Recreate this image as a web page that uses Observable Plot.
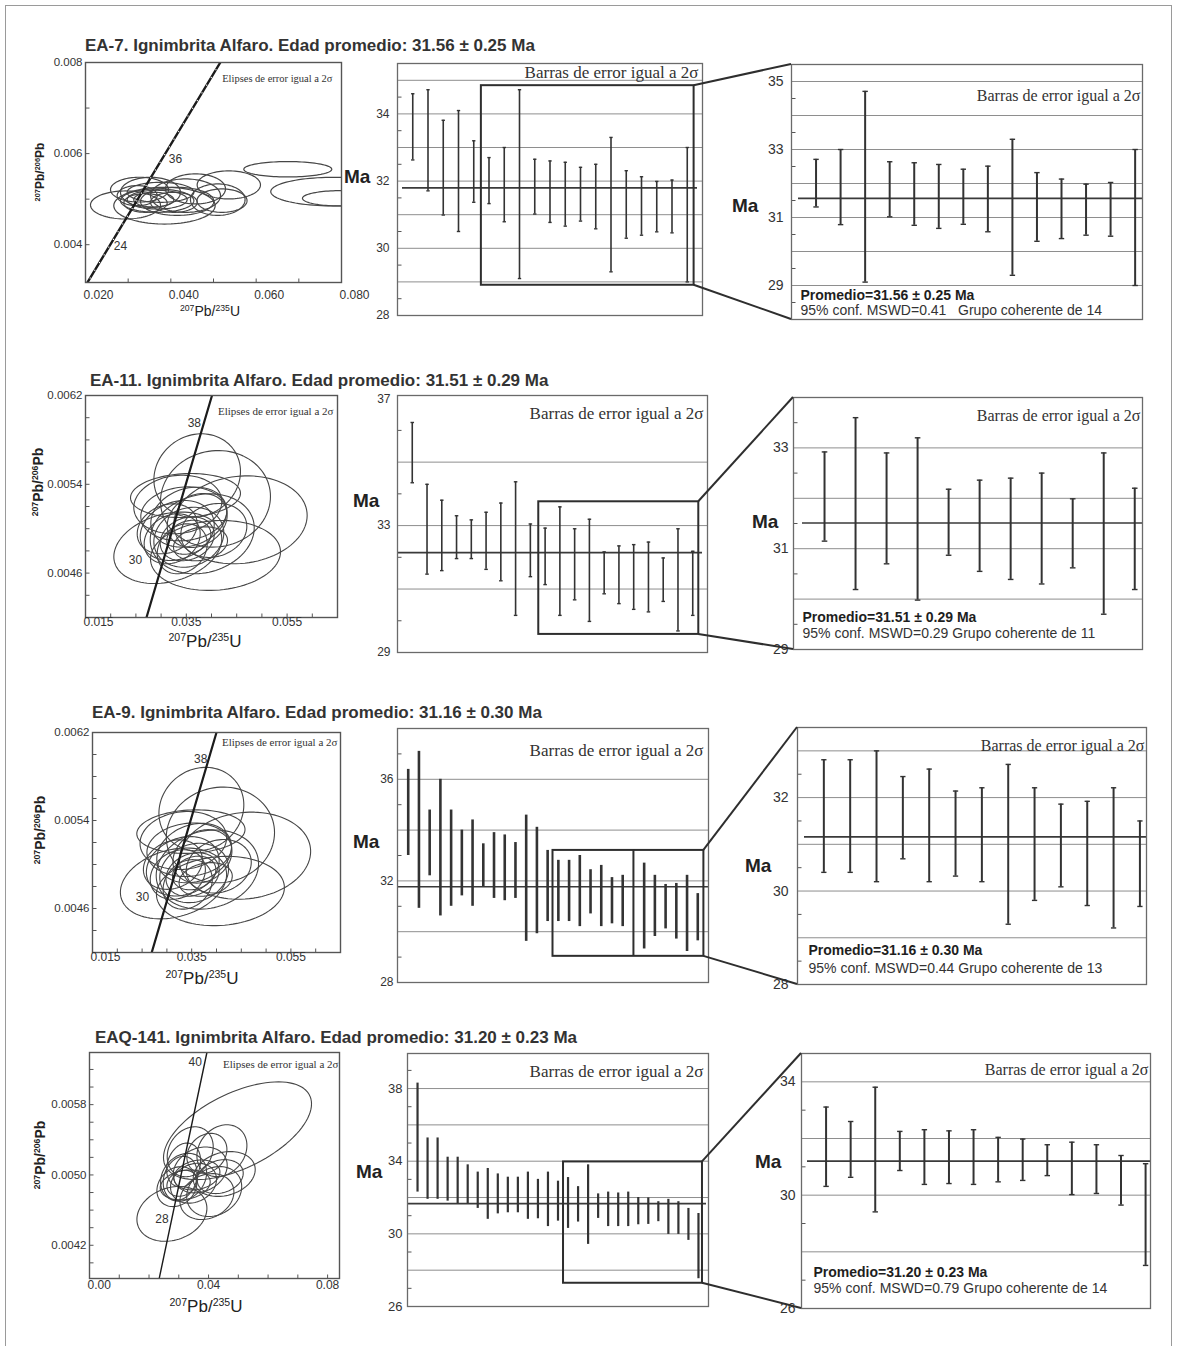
<!DOCTYPE html>
<html>
<head>
<meta charset="utf-8">
<script src="https://cdn.jsdelivr.net/npm/d3@7"></script>
<script src="https://cdn.jsdelivr.net/npm/@observablehq/plot@0.6"></script>
<style>
html,body{margin:0;padding:0;background:#fff;}
#fig{position:relative;width:1177px;height:1346px;overflow:hidden;background:#fff;font-family:"Liberation Sans",Arial,sans-serif;color:#2b2b2b;}
.abs{position:absolute;white-space:nowrap;}
.title{font-weight:bold;font-size:17px;line-height:17px;color:#333;}
.ma{font-weight:bold;font-size:19px;line-height:19px;color:#222;}
.ylab{font-weight:bold;transform:translate(-50%,-50%) rotate(-90deg);color:#222;}
.xlab{transform:translate(-50%,-50%);color:#222;}
sup{font-size:0.62em;line-height:0;vertical-align:0.6em;}
.border{border:1px solid #9a9a9a;}
</style>
</head>
<body>
<div id="fig"></div>
<script>
// ================= DATA =================
const titles = [
  "EA-7. Ignimbrita Alfaro. Edad promedio: 31.56 ± 0.25 Ma",
  "EA-11. Ignimbrita Alfaro. Edad promedio: 31.51 ± 0.29 Ma",
  "EA-9. Ignimbrita Alfaro. Edad promedio: 31.16 ± 0.30 Ma",
  "EAQ-141. Ignimbrita Alfaro. Edad promedio: 31.20 ± 0.23 Ma"
];
const promedioText = [
  "Promedio=31.56 ± 0.25 Ma",
  "Promedio=31.51 ± 0.29 Ma",
  "Promedio=31.16 ± 0.30 Ma",
  "Promedio=31.20 ± 0.23 Ma"
];
const mswdText = [
  "95% conf. MSWD=0.41   Grupo coherente de 14",
  "95% conf. MSWD=0.29 Grupo coherente de 11",
  "95% conf. MSWD=0.44 Grupo coherente de 13",
  "95% conf. MSWD=0.79 Grupo coherente de 14"
];
const noteEllipses = "Elipses de error igual a 2σ";
const noteBars = "Barras de error igual a 2σ";
const yAxisLabel = "<sup>207</sup>Pb/<sup>206</sup>Pb";
const xAxisLabel = "<sup>207</sup>Pb/<sup>235</sup>U";
const maLabel = "Ma";

// Concordia ellipses: [207Pb/235U, 207Pb/206Pb, half-width x, half-width y, rho]
const ea7Ellipses = [
  [0.06741,0.005656,0.01031,0.000169,0],[0.07819,0.005165,0.01477,0.000315,0],
  [0.07976,0.005018,0.00891,0.000169,0],[0.02937,0.004872,0.0082,0.000308,0],
  [0.03851,0.004857,0.01188,0.000404,0],[0.0510,0.004989,0.0064,0.000345,0],
  [0.05359,0.005313,0.00742,0.000308,0],[0.04578,0.005225,0.00703,0.00033,0],
  [0.03266,0.005209,0.0068,0.000272,0],[0.03523,0.00515,0.00703,0.00033,0],
  [0.0368,0.004967,0.0086,0.000257,0],[0.0368,0.004989,0.00703,0.000206,0],
  [0.0360,0.004989,0.00469,0.000162,0],[0.04149,0.004952,0.0086,0.000308,0],
  [0.03211,0.005077,0.00469,0.00022,0],[0.04344,0.005077,0.0082,0.000367,0],
  [0.03758,0.00515,0.00781,0.00022,0],[0.0407,0.00493,0.00547,0.00022,0],
  [0.052,0.004967,0.00586,0.000257,0],[0.03406,0.004916,0.00508,0.000206,0]
];
const ea11Ellipses = [
  [0.03716,0.005479,0.00859,0.000376,0.1],[0.04079,0.005269,0.01091,0.000435,0.05],
  [0.04575,0.00508,0.01323,0.000396,0.1],[0.03133,0.004828,0.01071,0.000322,0.25],
  [0.03331,0.005218,0.00873,0.000264,0.1],[0.04079,0.004759,0.0129,0.000315,0.1],
  [0.0355,0.005104,0.00754,0.00027,0.2],[0.0332,0.004984,0.00734,0.00027,0.2],
  [0.0355,0.004923,0.00694,0.00027,0.15],[0.0322,0.004909,0.00556,0.000225,0.2],
  [0.03518,0.004909,0.00536,0.000198,0.2],[0.03121,0.004999,0.00595,0.000225,0.2],
  [0.03716,0.005074,0.00595,0.000243,0.2],[0.04046,0.004984,0.00655,0.000243,0.15],
  [0.0345,0.005134,0.00853,0.000243,0.1],[0.03419,0.004819,0.00496,0.000225,0.2],
  [0.03816,0.004954,0.01032,0.00036,0.15],[0.03484,0.005299,0.01091,0.000198,0.1],
  [0.0355,0.004923,0.00437,0.000153,0.2],[0.03782,0.004864,0.00536,0.000153,0.2]
];
const ea9Ellipses = [
  [0.03695,0.005504,0.00856,0.000379,0.1],[0.04079,0.005269,0.01091,0.000435,0.05],
  [0.04575,0.00508,0.01323,0.000396,0.1],[0.03133,0.004828,0.01071,0.000322,0.25],
  [0.03331,0.005218,0.00873,0.000264,0.1],[0.04079,0.004759,0.0129,0.000315,0.1],
  [0.0355,0.005104,0.00754,0.00027,0.2],[0.0332,0.004984,0.00734,0.00027,0.2],
  [0.0355,0.004923,0.00694,0.00027,0.15],[0.0322,0.004909,0.00556,0.000225,0.2],
  [0.03518,0.004909,0.00536,0.000198,0.2],[0.03121,0.004999,0.00595,0.000225,0.2],
  [0.03716,0.005074,0.00595,0.000243,0.2],[0.04046,0.004984,0.00655,0.000243,0.15],
  [0.0345,0.005134,0.00853,0.000243,0.1],[0.03419,0.004819,0.00496,0.000225,0.2],
  [0.03816,0.004954,0.01032,0.00036,0.15],[0.03484,0.005299,0.01091,0.000198,0.1],
  [0.0355,0.004923,0.00437,0.000153,0.2],[0.03782,0.004864,0.00536,0.000153,0.2]
];
const eaq141Ellipses = [
  [0.04973,0.005503,0.02487,0.000556,0.55],[0.02769,0.004557,0.01176,0.000312,0.2],
  [0.04449,0.005276,0.0084,0.000295,0.2],[0.04526,0.005011,0.01042,0.000255,0.2],
  [0.0419,0.004811,0.00924,0.000284,0.2],[0.03384,0.005264,0.00773,0.000284,0.2],
  [0.03162,0.004974,0.00773,0.000272,0.2],[0.03048,0.004962,0.00571,0.00025,0.2],
  [0.03495,0.004906,0.00773,0.000227,0.2],[0.02937,0.004867,0.00672,0.000227,0.2],
  [0.0372,0.005057,0.00907,0.000261,0.2],[0.03162,0.005113,0.00571,0.00025,0.2],
  [0.03945,0.004754,0.00907,0.000261,0.2],[0.03216,0.004887,0.0084,0.00017,0.2],
  [0.03609,0.0050,0.00773,0.00017,0.2],[0.03105,0.004906,0.00504,0.000148,0.2],
  [0.03945,0.005246,0.00672,0.000227,0.2],[0.04392,0.004981,0.00773,0.000193,0.2]
];

// Concordia curve (end points) and age labels [age, x, y]
const ea7Concordia = [[0.0200,0.00310],[0.0516,0.0080]];
const ea7Ages = [[36,0.0411,0.005885],[24,0.0282,0.003976]];
const ea11Concordia = [[0.0271,0.0042],[0.0401,0.0062]];
const ea11Ages = [[38,0.0366,0.005948],[30,0.0249,0.004714]];
const ea9Concordia = [[0.02694,0.0042],[0.0400,0.0062]];
const ea9Ages = [[38,0.03681,0.005958],[30,0.02507,0.004706]];
const eaq141Concordia = [[0.02342,0.003822],[0.03945,0.006393]];
const eaq141Ages = [[40,0.0355,0.006286],[28,0.02433,0.004497]];

// Concordia axis tick values (labelled and minor)
const ea7YTicks = [0.004, 0.006, 0.008], ea7XTicks = [0.02, 0.04, 0.06, 0.08];
const ea7YMinor = [0.004, 0.005, 0.006, 0.007], ea7XMinor = [0.03, 0.04, 0.05, 0.06, 0.07];
const ea11YTicks = [0.0046, 0.0054, 0.0062], ea11XTicks = [0.015, 0.035, 0.055];
const ea11YMinor = [0.0044, 0.0046, 0.0048, 0.005, 0.0052, 0.0054, 0.0056, 0.0058, 0.006];
const ea11XMinor = [0.02, 0.025, 0.03, 0.035, 0.04, 0.045, 0.05, 0.055, 0.06];
const eaq141YTicks = [0.0042, 0.005, 0.0058], eaq141XTicks = [0, 0.04, 0.08];
const eaq141YMinor = [0.004, 0.0042, 0.0044, 0.0046, 0.0048, 0.005, 0.0052, 0.0054, 0.0056, 0.0058, 0.006, 0.0062];
const eaq141XMinor = [0.01, 0.02, 0.03, 0.04, 0.05, 0.06, 0.07, 0.08];

// Error bars [upper, lower] in Ma (null = empty position)
const ea7All = [[34.6,32.63],[34.72,31.71],[33.81,30.99],[34.1,30.5],[33.2,31.37],[32.7,31.33],[33.0,30.79],[34.72,29.1],[32.65,31.02],[32.6,30.77],[32.56,30.66],[32.41,30.81],[32.5,30.58],[33.3,29.3],[32.31,30.3],[32.13,30.39],[31.99,30.49],[32.03,30.46],[33.0,29.0]];
const ea7Sel = [[32.71,31.31],[33.0,30.79],[34.71,29.1],[32.64,31.02],[32.61,30.77],[32.56,30.68],[32.42,30.8],[32.51,30.58],[33.3,29.3],[32.32,30.3],[32.13,30.38],[31.98,30.48],[32.03,30.45],[33.0,29.0]];
const ea11All = [[36.25,34.35],[34.3,31.47],[33.8,31.58],[33.31,31.96],[33.18,31.96],[33.42,31.62],[33.71,31.26],[34.38,30.17],[33.05,31.39],[32.92,31.14],[33.59,30.17],[32.9,30.66],[33.2,29.98],[32.17,30.85],[32.36,30.54],[32.4,30.36],[32.48,30.28],[31.98,30.61],[32.9,29.68],[32.19,30.17]];
const ea11Sel = [[32.92,31.15],[33.6,30.19],[32.9,30.7],[33.2,29.98],[32.18,30.87],[32.36,30.55],[32.4,30.39],[32.5,30.3],[31.99,30.62],[32.9,29.7],[32.2,30.19]];
const ea9All = [[36.39,33.0],[37.1,30.92],[34.79,32.2],[36.0,30.62],[34.79,31.0],[34.0,31.41],[34.4,31.0],[33.46,31.77],[33.9,31.31],[33.81,31.22],[33.51,31.31],[34.59,29.62],[34.11,29.92],[33.2,30.4],[32.81,30.4],[32.81,30.4],[33.0,30.2],[32.44,30.7],[32.61,30.2],[32.13,30.31],[32.22,30.2],null,[32.7,29.32],[32.22,29.81],[31.86,30.11],[31.9,29.71],[32.22,29.22],[31.5,29.64]];
const ea9Sel = [[32.81,30.4],[32.81,30.4],[33.0,30.2],[32.45,30.69],[32.61,30.2],[32.14,30.32],[32.21,30.2],[32.71,29.29],[32.21,29.8],[31.86,30.09],[31.92,29.69],[32.21,29.21],[31.5,29.67]];
const eaq141All = [[38.3,32.3],[35.28,31.9],[35.28,31.9],[34.22,31.8],[34.22,31.67],[33.8,31.67],[33.4,31.4],[33.6,30.8],[33.3,31.1],[33.12,31.16],[33.12,31.16],[33.4,30.8],[33.0,30.83],[33.4,30.4],[32.9,30.7],[33.1,30.3],[32.6,30.65],[33.8,29.42],[32.2,30.85],[32.3,30.4],[32.25,30.4],[32.3,30.4],[32.0,30.5],[31.98,30.52],[31.77,30.67],[31.9,29.97],[31.77,29.97],[31.4,29.64],[31.12,27.53]];
const eaq141Sel = [[33.11,30.31],[32.6,30.63],[33.81,29.41],[32.25,30.87],[32.31,30.38],[32.27,30.41],[32.31,30.38],[32.04,30.47],[31.98,30.52],[31.78,30.69],[31.87,30.02],[31.78,30.06],[31.4,29.65],[31.11,27.52]];

// mean lines (Ma)
const meansAll = [31.8, 32.15, 31.77, 31.66];
const meansSel = [31.56, 31.51, 31.16, 31.20];
// selection boxes [fromPos, toPos, lowMa, highMa]
const ea7Box = [5.5, 19.45, 28.9, 34.84];
const ea11Box = [9.57, 20.41, 29.57, 33.75];
const ea9Box = [14.5, 28.57, 29.03, 33.2];
const eaq141Box = [15.55, 29.4, 27.28, 33.96];
const ea9Divider = 22;

// age axis: labelled ticks, grid lines, minor ticks (Ma)
const ea7MidTicks = [28, 30, 32, 34], ea7MidGrid = [29, 30, 31, 32, 33, 34, 35], ea7MidMinor = [28.5, 29.5, 30.5, 31.5, 32.5, 33.5, 34.5];
const ea7SelTicks = [29, 31, 33, 35], ea7SelGrid = [29, 30, 31, 32, 33, 34, 35], ea7SelMinor = [28.5, 29.5, 30.5, 31.5, 32.5, 33.5, 34.5];
const ea11MidTicks = [29, 33, 37], ea11MidGrid = [31, 33, 35], ea11MidMinor = [30, 32, 34, 36];
const ea11SelTicks = [29, 31, 33], ea11SelGrid = [30, 31, 32, 33], ea11SelMinor = [29.5, 30.5, 31.5, 32.5, 33.5];
const ea9MidTicks = [28, 32, 36], ea9MidGrid = [30, 32, 34, 36], ea9MidMinor = [29, 31, 33, 35, 37];
const ea9SelTicks = [28, 30, 32], ea9SelGrid = [29, 30, 31, 32, 33], ea9SelMinor = [28.5, 29.5, 30.5, 31.5, 32.5];
const eaq141MidTicks = [26, 30, 34, 38], eaq141MidGrid = [28, 30, 32, 34, 36, 38], eaq141MidMinor = [27, 29, 31, 33, 35, 37, 39];
const eaq141SelTicks = [26, 30, 34], eaq141SelGrid = [28, 30, 32, 34], eaq141SelMinor = [27, 29, 31, 33];

// ================= LAYOUT =================
const SERIF = "Liberation Serif, Times New Roman, serif";
const SANS = "Liberation Sans, Arial, sans-serif";
const fig = document.getElementById("fig");
const intFmt = d3.format("d");

function addDiv(cls, html, left, top, extra) {
  const d = document.createElement("div");
  d.className = "abs " + cls;
  d.innerHTML = html;
  d.style.left = left + "px";
  d.style.top = top + "px";
  if (extra) Object.assign(d.style, extra);
  fig.appendChild(d);
  return d;
}

function ellipsePoints(list) {
  const out = [];
  list.forEach((e, k) => {
    const [cx, cy, ax, ay, rho] = e;
    const s = Math.sqrt(1 - rho * rho);
    for (let j = 0; j <= 96; j++) {
      const t = (j / 96) * 2 * Math.PI;
      out.push({k, x: cx + ax * Math.cos(t), y: cy + ay * (rho * Math.cos(t) + s * Math.sin(t))});
    }
  });
  return out;
}

function mount(plot, frame, m) {
  plot.style.position = "absolute";
  plot.style.left = (frame[0] - m.l) + "px";
  plot.style.top = (frame[1] - m.t) + "px";
  fig.appendChild(plot);
  return {plot, left: frame[0] - m.l, top: frame[1] - m.t};
}

const svgStyle = {background: "transparent", overflow: "visible", fontFamily: SANS, maxWidth: "none", color: "#333"};

// small inward tick marks along the left (and bottom) frame edges
function leftTicks(values, xDomain, fw, px) {
  const len = (xDomain[1] - xDomain[0]) * px / fw;
  return Plot.link(values, {x1: () => xDomain[0], x2: () => xDomain[0] + len, y1: d => d, y2: d => d, stroke: "#555", strokeWidth: 1});
}
function bottomTicks(values, yDomain, fh, px) {
  const len = (yDomain[1] - yDomain[0]) * px / fh;
  return Plot.link(values, {x1: d => d, x2: d => d, y1: () => yDomain[0], y2: () => yDomain[0] + len, stroke: "#555", strokeWidth: 1});
}

function concordiaPanel(c) {
  const m = {l: 60, r: 30, t: 12, b: 34};
  const fw = c.frame[2] - c.frame[0], fh = c.frame[3] - c.frame[1];
  const fmtX = d3.format(c.xFmt), fmtY = d3.format(c.yFmt);
  const marks = [
    Plot.line(ellipsePoints(c.ellipses), {x: "x", y: "y", z: "k", stroke: "#464646", strokeWidth: c.ew, clip: true}),
    Plot.line(c.concordia, {x: d => d[0], y: d => d[1], stroke: "#1b1b1b", strokeWidth: c.cw, clip: true})
  ];
  if (c.dotted) marks.push(Plot.line(c.concordia, {x: d => d[0], y: d => d[1], stroke: "#fff", strokeWidth: 1.3, strokeDasharray: "0.01 9", strokeLinecap: "round", clip: true}));
  marks.push(
    leftTicks(c.yMinor, c.xDomain, fw, 4),
    bottomTicks(c.xMinor, c.yDomain, fh, 4),
    Plot.text(c.ages, {x: d => d[1], y: d => d[2], text: d => String(d[0]), fontSize: 12, fill: "#333"}),
    Plot.text([noteEllipses], {text: d => d, frameAnchor: "top-right", textAnchor: "end", lineAnchor: "middle", dx: c.noteDx, dy: c.noteDy, fontSize: c.noteSize, fontFamily: SERIF, fill: "#333"}),
    Plot.frame({stroke: "#555", strokeWidth: 1.4}),
    Plot.axisY(c.yTicks, {tickSize: 0, tickPadding: 3, tickFormat: fmtY, fontSize: 11.5, label: null}),
    Plot.axisX(c.xTicks.slice(0, c.startCount), {tickSize: 0, tickPadding: c.xPad, tickFormat: fmtX, textAnchor: "start", dx: -2, fontSize: 12, label: null})
  );
  if (c.startCount < c.xTicks.length)
    marks.push(Plot.axisX(c.xTicks.slice(c.startCount), {tickSize: 0, tickPadding: c.xPad, tickFormat: fmtX, fontSize: 12, label: null}));
  const plot = Plot.plot({
    width: fw + m.l + m.r, height: fh + m.t + m.b,
    marginLeft: m.l, marginRight: m.r, marginTop: m.t, marginBottom: m.b,
    style: svgStyle,
    x: {domain: c.xDomain, axis: null},
    y: {domain: c.yDomain, axis: null},
    marks
  });
  return mount(plot, c.frame, m);
}

function agePanel(a) {
  const m = {l: 50, r: 12, t: 12, b: 14};
  const fw = a.frame[2] - a.frame[0], fh = a.frame[3] - a.frame[1];
  const bars = a.bars.map((d, k) => d ? {i: k + 1, hi: d[0], lo: d[1]} : null).filter(Boolean);
  const marks = [
    Plot.ruleY(a.grid, {stroke: "#8e8e8e", strokeWidth: 1}),
    leftTicks(a.minor, a.xDomain, fw, 4),
    Plot.ruleY([a.mean], {y: d => d, stroke: "#3a3a3a", strokeWidth: 1.7, insetLeft: a.meanInset[0], insetRight: a.meanInset[1]}),
    Plot.ruleX(bars, {x: "i", y1: "lo", y2: "hi", stroke: "#333", strokeWidth: a.bw})
  ];
  if (a.cap) marks.push(
    Plot.link(bars, {x1: d => d.i - a.cap, x2: d => d.i + a.cap, y1: "hi", y2: "hi", stroke: "#333", strokeWidth: 1.4}),
    Plot.link(bars, {x1: d => d.i - a.cap, x2: d => d.i + a.cap, y1: "lo", y2: "lo", stroke: "#333", strokeWidth: 1.4})
  );
  if (a.box) marks.push(Plot.rect([a.box], {x1: d => d[0], x2: d => d[1], y1: d => d[2], y2: d => d[3], fill: "none", stroke: "#2e2e2e", strokeWidth: 2}));
  if (a.divider != null) marks.push(Plot.ruleX([a.divider], {x: d => d, y1: () => a.box[2], y2: () => a.box[3], stroke: "#2e2e2e", strokeWidth: 2}));
  marks.push(Plot.text([noteBars], {text: d => d, frameAnchor: "top-right", textAnchor: "end", lineAnchor: "middle", dx: a.noteDx, dy: a.noteDy, fontSize: a.noteSize, fontFamily: SERIF, fill: "#333"}));
  if (a.stats) marks.push(
    Plot.text([a.stats[0]], {text: d => d, frameAnchor: "bottom-left", textAnchor: "start", lineAnchor: "middle", dx: a.statsDx, dy: a.statsDy[0], fontSize: 14, fontWeight: "bold", fill: "#1e1e1e"}),
    Plot.text([a.stats[1]], {text: d => d, frameAnchor: "bottom-left", textAnchor: "start", lineAnchor: "middle", dx: a.statsDx, dy: a.statsDy[1], fontSize: 14, fill: "#333"})
  );
  marks.push(
    Plot.frame({stroke: "#6a6a6a", strokeWidth: 1.3}),
    Plot.axisY(a.ticks, {tickSize: 0, tickPadding: a.tickPad, tickFormat: intFmt, fontSize: a.tickFont, label: null})
  );
  const plot = Plot.plot({
    width: fw + m.l + m.r, height: fh + m.t + m.b,
    marginLeft: m.l, marginRight: m.r, marginTop: m.t, marginBottom: m.b,
    style: svgStyle,
    x: {domain: a.xDomain, axis: null},
    y: {domain: a.yDomain, axis: null},
    marks
  });
  return mount(plot, a.frame, m);
}

// ---------- Row specifications (positions & styles) ----------
const rows = [
  {
    title: [85, 36.6],
    conc: {frame: [85, 62, 341, 282], xDomain: [0.020, 0.080], yDomain: [0.00317, 0.008], xTicks: ea7XTicks, startCount: 4,
      yTicks: ea7YTicks, yMinor: ea7YMinor, xMinor: ea7XMinor, xFmt: ".3f", yFmt: ".3f", xPad: 8, ellipses: ea7Ellipses, concordia: ea7Concordia, ages: ea7Ages,
      cw: 2.4, ew: 1.2, dotted: true, noteDx: -9, noteDy: 16, noteSize: 10.5},
    ylab: [40, 172, 12], xlab: [210, 311, 14],
    mid: {frame: [397, 63, 702, 315], xDomain: [0, 20], yDomain: [28, 35.5], grid: ea7MidGrid, ticks: ea7MidTicks, minor: ea7MidMinor,
      mean: meansAll[0], meanInset: [5, 5], bars: ea7All, cap: 0.11, bw: 1.6, box: ea7Box, noteDx: -4, noteDy: 9, noteSize: 17, tickFont: 12, tickPad: 8},
    sel: {frame: [791, 64, 1142, 319], xDomain: [0, 14.3], yDomain: [28, 35.5], grid: ea7SelGrid, ticks: ea7SelTicks, minor: ea7SelMinor,
      mean: meansSel[0], meanInset: [7, 0], bars: ea7Sel, cap: 0.11, bw: 2, noteDx: -2, noteDy: 31, noteSize: 16, tickFont: 14, tickPad: 8,
      stats: [promedioText[0], mswdText[0]], statsDx: 9, statsDy: [-24, -9]},
    maMid: [344, 167], maSel: [732, 196]
  },
  {
    title: [90, 371.6],
    conc: {frame: [85, 395, 337, 617], xDomain: [0.015, 0.065], yDomain: [0.0042, 0.0062], xTicks: ea11XTicks, startCount: 1,
      yTicks: ea11YTicks, yMinor: ea11YMinor, xMinor: ea11XMinor, xFmt: ".3f", yFmt: ".4f", xPad: 0, ellipses: ea11Ellipses, concordia: ea11Concordia, ages: ea11Ages,
      cw: 2.2, ew: 1.1, dotted: false, noteDx: -4, noteDy: 16, noteSize: 11},
    ylab: [38, 482, 14], xlab: [205, 642, 17],
    mid: {frame: [397, 395, 707, 652], xDomain: [0, 21], yDomain: [29, 37.1], grid: ea11MidGrid, ticks: ea11MidTicks, minor: ea11MidMinor,
      mean: meansAll[1], meanInset: [1, 5], bars: ea11All, cap: 0.12, bw: 1.6, box: ea11Box, noteDx: -4, noteDy: 18, noteSize: 17, tickFont: 12, tickPad: 7},
    sel: {frame: [793, 397, 1142, 649], xDomain: [0, 11.25], yDomain: [29, 34], grid: ea11SelGrid, ticks: ea11SelTicks, minor: ea11SelMinor,
      mean: meansSel[1], meanInset: [9, 0], bars: ea11Sel, cap: 0.09, bw: 2, noteDx: -2, noteDy: 18, noteSize: 16, tickFont: 14, tickPad: 5,
      stats: [promedioText[1], mswdText[1]], statsDx: 9, statsDy: [-32, -16]},
    maMid: [353, 491], maSel: [752, 512]
  },
  {
    title: [92, 703.6],
    conc: {frame: [92, 732, 340, 952], xDomain: [0.015, 0.065], yDomain: [0.0042, 0.0062], xTicks: ea11XTicks, startCount: 1,
      yTicks: ea11YTicks, yMinor: ea11YMinor, xMinor: ea11XMinor, xFmt: ".3f", yFmt: ".4f", xPad: 0, ellipses: ea9Ellipses, concordia: ea9Concordia, ages: ea9Ages,
      cw: 2.2, ew: 1.1, dotted: false, noteDx: -3, noteDy: 10, noteSize: 11},
    ylab: [40, 830, 14], xlab: [202, 979, 17],
    mid: {frame: [397, 728, 708, 982], xDomain: [0, 29], yDomain: [28, 38], grid: ea9MidGrid, ticks: ea9MidTicks, minor: ea9MidMinor,
      mean: meansAll[2], meanInset: [0, 0], bars: ea9All, cap: 0, bw: 2.6, box: ea9Box, divider: ea9Divider, noteDx: -5, noteDy: 22, noteSize: 17, tickFont: 12, tickPad: 4},
    sel: {frame: [797, 727, 1146, 984], xDomain: [0, 13.25], yDomain: [28, 33.5], grid: ea9SelGrid, ticks: ea9SelTicks, minor: ea9SelMinor,
      mean: meansSel[2], meanInset: [7, 0], bars: ea9Sel, cap: 0.1, bw: 2, noteDx: -2, noteDy: 18, noteSize: 16, tickFont: 14, tickPad: 9,
      stats: [promedioText[2], mswdText[2]], statsDx: 11, statsDy: [-34, -16]},
    maMid: [353, 832], maSel: [745, 856]
  },
  {
    title: [95, 1028.6],
    conc: {frame: [89, 1052, 339, 1278], xDomain: [0, 0.084], yDomain: [0.003822, 0.006393], xTicks: eaq141XTicks, startCount: 1,
      yTicks: eaq141YTicks, yMinor: eaq141YMinor, xMinor: eaq141XMinor, xFmt: ".2f", yFmt: ".4f", xPad: 2, ellipses: eaq141Ellipses, concordia: eaq141Concordia, ages: eaq141Ages,
      cw: 1.4, ew: 1.1, dotted: false, noteDx: -1, noteDy: 12, noteSize: 11},
    ylab: [40, 1155, 14], xlab: [206, 1307, 17],
    mid: {frame: [407, 1053, 708, 1306], xDomain: [0, 30], yDomain: [26, 39.93], grid: eaq141MidGrid, ticks: eaq141MidTicks, minor: eaq141MidMinor,
      mean: meansAll[3], meanInset: [1, 2], bars: eaq141All, cap: 0, bw: 2.2, box: eaq141Box, noteDx: -5, noteDy: 18, noteSize: 17, tickFont: 13, tickPad: 5},
    sel: {frame: [801, 1053, 1150, 1308], xDomain: [0, 14.2], yDomain: [26, 35], grid: eaq141SelGrid, ticks: eaq141SelTicks, minor: eaq141SelMinor,
      mean: meansSel[3], meanInset: [6, 0], bars: eaq141Sel, cap: 0.11, bw: 2, noteDx: -2, noteDy: 16, noteSize: 16, tickFont: 14, tickPad: 6,
      stats: [promedioText[3], mswdText[3]], statsDx: 12, statsDy: [-36, -20]},
    maMid: [356, 1162], maSel: [755, 1152]
  }
];

// outer border
addDiv("border", "", 5, 5, {width: "1165px", height: "1400px"});

const built = rows.map((r, k) => {
  addDiv("title", titles[k], r.title[0], r.title[1]);
  concordiaPanel(r.conc);
  addDiv("ylab", yAxisLabel, r.ylab[0], r.ylab[1], {fontSize: r.ylab[2] + "px"});
  addDiv("xlab", xAxisLabel, r.xlab[0], r.xlab[1], {fontSize: r.xlab[2] + "px"});
  const M = agePanel(r.mid);
  const R = agePanel(r.sel);
  addDiv("ma", maLabel, r.maMid[0], r.maMid[1]);
  addDiv("ma", maLabel, r.maSel[0], r.maSel[1]);
  return {M, R, box: r.mid.box};
});

// connector lines from selection box to the enlarged panel (via Plot scales)
const ov = d3.select(fig).append("svg")
  .attr("width", 1177).attr("height", 1346)
  .style("position", "absolute").style("left", "0px").style("top", "0px")
  .style("pointer-events", "none");
built.forEach(({M, R, box}) => {
  const mx = M.plot.scale("x"), my = M.plot.scale("y");
  const rx = R.plot.scale("x"), ry = R.plot.scale("y");
  const bx = M.left + mx.apply(box[1]);
  const bTop = M.top + my.apply(box[3]);
  const bBot = M.top + my.apply(box[2]);
  const fx = R.left + rx.range[0];
  const fTop = R.top + ry.range[1];
  const fBot = R.top + ry.range[0];
  [[bTop, fTop], [bBot, fBot]].forEach(([y1, y2]) => {
    ov.append("line").attr("x1", bx).attr("y1", y1).attr("x2", fx).attr("y2", y2)
      .attr("stroke", "#2e2e2e").attr("stroke-width", 2);
  });
});
</script>
</body>
</html>
